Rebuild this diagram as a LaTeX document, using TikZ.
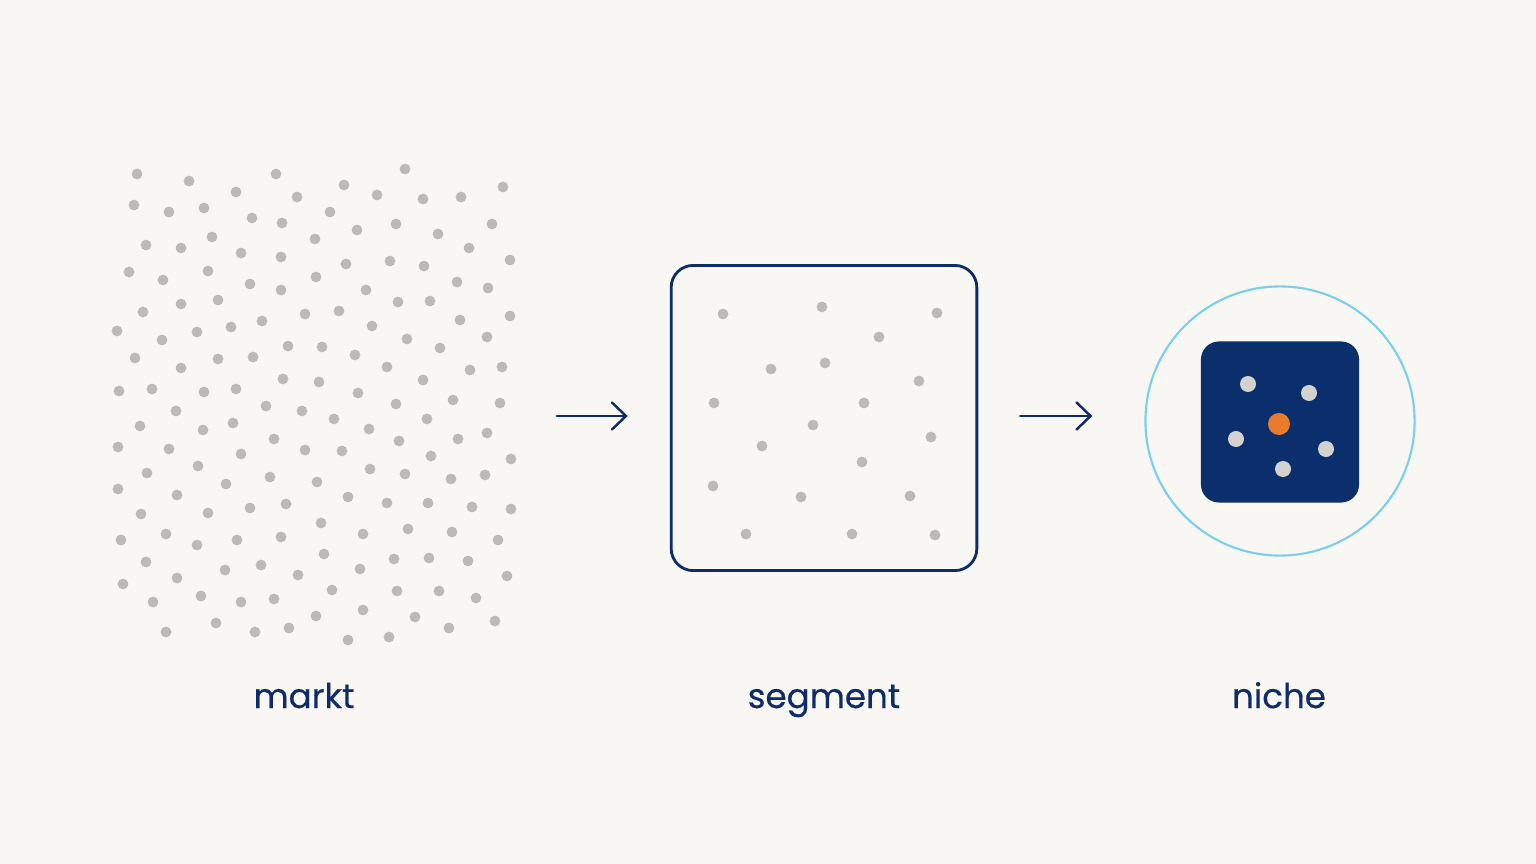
\documentclass[tikz,border=0pt]{standalone}
\usepackage{fontspec}
\setmainfont{Poppins}
\newfontfamily\captionfont{Poppins}[FakeBold=0.5]
\usetikzlibrary{positioning,arrows.meta}
\definecolor{paper}{HTML}{F9F7F3}
\definecolor{speck}{HTML}{BDBAB5}
\definecolor{navy}{HTML}{0E2C6B}
\definecolor{navyfill}{HTML}{0B2E6C}
\definecolor{sky}{HTML}{7ACFEF}
\definecolor{pale}{HTML}{D4D2CE}
\definecolor{tangerine}{HTML}{E97C2C}

\begin{document}
\begin{tikzpicture}[x=0.01cm, y=-0.01cm,
    dot/.style={circle, fill=speck, inner sep=0pt, minimum size=0.108cm},
    flow/.style={draw=navy, line width=0.7pt, line cap=round,
      -{Straight Barb[length=1.4mm, width=2.7mm, line cap=round]}},
    caption/.style={anchor=base, text=navy, font=\captionfont\fontsize{9.7}{11}\selectfont}]
  \fill[paper] (0,0) rectangle (1536,864);
  \useasboundingbox (0,0) rectangle (1536,864);

  % markt
  \node[minimum width=4.04cm, minimum height=4.81cm] (markt) at (314,404) {};
  \foreach \x/\y in {137/174,189/181,236/192,276/174,297/197,344/185,377/195,405/169,423/199,461/197,503/187,
      134/205,169/212,204/208,252/218,282/223,330/212,357/230,396/224,438/234,492/224,
      146/245,181/248,212/237,241/253,281/257,315/239,346/264,390/261,424/266,469/248,510/260,
      129/272,163/280,208/271,250/284,281/290,316/277,366/290,398/302,430/301,457/282,488/288,
      143/312,181/304,218/300,262/321,305/314,339/311,372/326,407/339,440/348,460/320,487/337,510/316,
      117/331,162/340,197/332,231/327,288/346,322/347,355/355,387/367,423/380,470/370,502/367,
      135/358,181/368,218/359,253/357,283/379,319/382,358/393,396/404,427/419,453/400,500/403,
      119/391,152/389,204/392,236/389,266/406,302/411,334/419,369/429,399/441,458/439,487/433,
      140/426,176/411,203/430,233/423,274/439,305/450,342/451,370/469,405/474,431/456,485/475,511/459,
      118/447,169/449,198/466,241/454,270/477,317/482,348/497,387/503,428/503,451/479,472/507,
      147/473,177/495,226/484,250/508,286/504,321/523,363/534,408/529,452/532,498/540,511/509,
      118/489,141/514,208/513,237/540,281/537,324/554,360/569,394/559,429/558,468/561,507/576,
      121/540,166/534,197/545,225/570,261/565,298/575,332/590,363/610,397/591,439/591,476/598,
      146/562,177/578,201/596,241/602,274/599,316/616,348/640,389/637,415/617,449/628,495/621,
      123/584,153/602,166/632,216/623,255/632,289/628}
    \node[dot] at (\x,\y) {};

  % segment
  \node[draw=navy, line width=0.8pt, rounded corners=0.22cm,
    minimum width=3.055cm, minimum height=3.05cm] (segment) at (824,418) {};
  \foreach \x/\y in {723/314,822/307,937/313,879/337,771/369,825/363,919/381,714/403,864/403,813/425,
      931/437,762/446,862/462,713/486,801/497,910/496,746/534,852/534,935/535}
    \node[dot] at (\x,\y) {};

  % niche
  \node[circle, draw=sky, line width=0.6pt, minimum size=2.69cm] (niche) at (1280,421) {};
  \node[fill=navyfill, rounded corners=0.18cm, minimum width=1.58cm,
    minimum height=1.61cm] (core) at (1280,422) {};
  \foreach \x/\y in {1248/384,1309/393,1236/439,1326/449,1283/469}
    \node[circle, fill=pale, inner sep=0pt, minimum size=0.16cm] at (\x,\y) {};
  \node[circle, fill=tangerine, inner sep=0pt, minimum size=0.22cm] (target) at (1279,424) {};

  \draw[flow, shorten <=0.4cm, shorten >=0.42cm]
    ([yshift=0.02cm]markt.east |- segment.west) -- ([yshift=0.02cm]segment.west);
  \draw[flow, shorten <=0.42cm, shorten >=0.52cm]
    ([yshift=0.02cm]segment.east) -- ([yshift=0.02cm]segment.east -| niche.west);

  \node[caption] (marktLabel) at (304,708) {markt};
  \node[caption] (segmentLabel) at (824,708) {segment};
  \node[caption] (nicheLabel) at (1279,708) {niche};
\end{tikzpicture}
\end{document}
